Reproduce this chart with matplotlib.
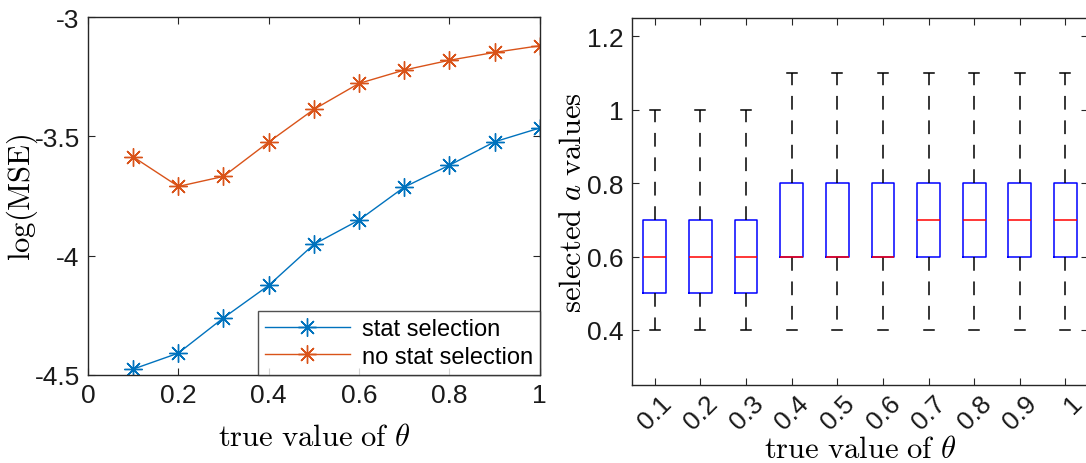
import numpy as np
import matplotlib
matplotlib.use("Agg")
import matplotlib.pyplot as plt
from matplotlib.transforms import ScaledTranslation

plt.rcParams['font.family'] = 'Liberation Sans'
plt.rcParams['mathtext.fontset'] = 'cm'
plt.rcParams['axes.unicode_minus'] = False

# log(MSE) against true theta
theta = [0.1, 0.2, 0.3, 0.4, 0.5, 0.6, 0.7, 0.8, 0.9, 1.0]
mse_stat = [-4.476, -4.409, -4.261, -4.125, -3.953, -3.851, -3.713, -3.621, -3.523, -3.465]
mse_nostat = [-3.586, -3.710, -3.668, -3.524, -3.387, -3.278, -3.222, -3.181, -3.148, -3.120]

# selected a values, box summaries per theta
box_labels = ['0.1', '0.2', '0.3', '0.4', '0.5', '0.6', '0.7', '0.8', '0.9', '1']
q1 = [0.5, 0.5, 0.5, 0.6, 0.6, 0.6, 0.6, 0.6, 0.6, 0.6]
med = [0.6, 0.6, 0.6, 0.6, 0.6, 0.6, 0.7, 0.7, 0.7, 0.7]
q3 = [0.7, 0.7, 0.7, 0.8, 0.8, 0.8, 0.8, 0.8, 0.8, 0.8]
wlo = [0.4] * 10
whi = [1.0, 1.0, 1.0, 1.1, 1.1, 1.1, 1.1, 1.1, 1.1, 1.1]

blue = '#0072BD'
orange = '#D95319'
axcol = '#262626'
star = (8, 2, 0)
tick_fs = 19
label_fs = 22

fig = plt.figure(figsize=(10.86, 4.64), dpi=100)
ax1 = fig.add_axes([0.081, 0.19, 0.416, 0.771])
ax2 = fig.add_axes([0.582, 0.168, 0.42, 0.791])

def matlab_style(ax):
    for s in ax.spines.values():
        s.set_color(axcol)
        s.set_linewidth(1.0)
    ax.tick_params(direction='in', top=True, right=True, length=5, width=0.8,
                   color=axcol, labelsize=tick_fs, labelcolor='#1a1a1a', pad=6)

ax1.plot(theta, mse_stat, color=blue, marker=star, markersize=13, lw=1.0,
         label='stat selection')
ax1.plot(theta, mse_nostat, color=orange, marker=star, markersize=13, lw=1.0,
         label='no stat selection')
ax1.set_xlim(0, 1)
ax1.set_ylim(-4.5, -3)
ax1.set_xticks([0, 0.2, 0.4, 0.6, 0.8, 1])
ax1.set_xticklabels(['0', '0.2', '0.4', '0.6', '0.8', '1'])
ax1.set_yticks([-4.5, -4, -3.5, -3])
ax1.set_yticklabels(['-4.5', '-4', '-3.5', '-3'])
matlab_style(ax1)
ax1.set_xlabel(r'$\mathrm{true\ value\ of}\ \theta$', fontsize=label_fs)
ax1.set_ylabel(r'$\mathrm{log(MSE)}$', fontsize=label_fs)
ax1.xaxis.set_label_coords(0.5, -0.173)
ax1.xaxis.label.set_verticalalignment('center')
ax1.yaxis.set_label_coords(-0.145, 0.5)
ax1.yaxis.label.set_verticalalignment('center')

leg = ax1.legend(loc='lower right', fontsize=17, frameon=True, fancybox=False,
                 borderaxespad=0, handlelength=3.6, borderpad=0.3,
                 labelspacing=0.25, handletextpad=0.5)
leg.get_frame().set_edgecolor(axcol)
leg.get_frame().set_linewidth(1.0)
for line in leg.get_lines():
    line.set_markersize(13)

stats = []
for i in range(len(box_labels)):
    stats.append(dict(q1=q1[i], med=med[i], q3=q3[i], whislo=wlo[i], whishi=whi[i],
                      fliers=[], label=box_labels[i]))
ax2.bxp(stats, positions=np.arange(1, 11), widths=0.5, showfliers=False,
        boxprops=dict(color='blue', linewidth=1.1),
        medianprops=dict(color='red', linewidth=1.1),
        whiskerprops=dict(color='black', linewidth=1.1, linestyle=(0, (9, 7))),
        capprops=dict(color='black', linewidth=1.1), capwidths=0.22)
ax2.set_xlim(0.5, 10.5)
ax2.set_ylim(0.25, 1.25)
ax2.set_yticks([0.4, 0.6, 0.8, 1.0, 1.2])
ax2.set_yticklabels(['0.4', '0.6', '0.8', '1', '1.2'])
ax2.set_xticks(np.arange(1, 11))
ax2.set_xticklabels(box_labels, rotation=45, ha='right', rotation_mode='anchor')
matlab_style(ax2)
# nudge the rotated labels so they sit centred under their ticks
shift = ScaledTranslation(5 / 100, 3 / 100, fig.dpi_scale_trans)
for lbl in ax2.get_xticklabels():
    lbl.set_transform(lbl.get_transform() + shift)
ax2.set_xlabel(r'$\mathrm{true\ value\ of}\ \theta$', fontsize=label_fs)
ax2.set_ylabel(r'$\mathrm{selected}\ a\ \mathrm{values}$', fontsize=label_fs)
ax2.xaxis.set_label_coords(0.5, -0.174)
ax2.xaxis.label.set_verticalalignment('center')
ax2.yaxis.set_label_coords(-0.13, 0.5)
ax2.yaxis.label.set_verticalalignment('center')

fig.savefig('out.png', dpi=100)
